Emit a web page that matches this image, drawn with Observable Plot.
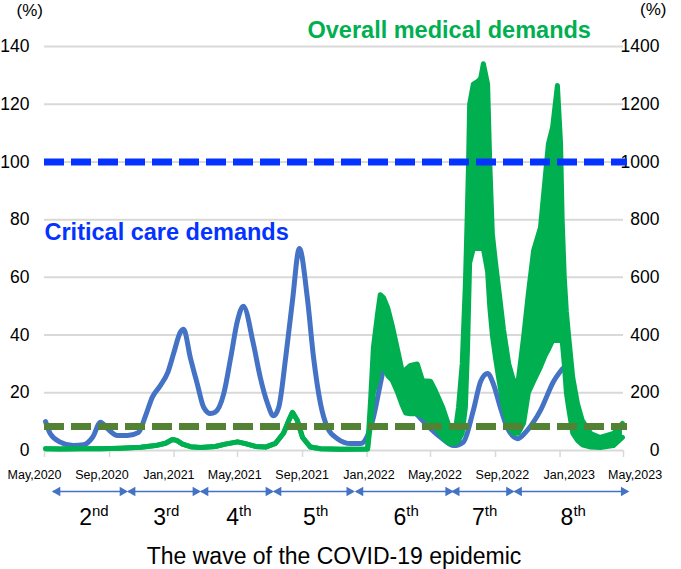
<!DOCTYPE html>
<html><head><meta charset="utf-8">
<script src="https://cdn.jsdelivr.net/npm/d3@7"></script>
<script src="https://cdn.jsdelivr.net/npm/@observablehq/plot@0.6"></script>
<style>body{margin:0;background:#fff}</style>
</head><body><div id="chart"></div>
<script>
// ---- data ----
const tickDates = ["2020-05-01","2020-09-01","2021-01-01","2021-05-01","2021-09-01","2022-01-01","2022-05-01","2022-09-01","2023-01-01","2023-05-01"];
const tickLabels = ["May,2020","Sep,2020","Jan,2021","May,2021","Sep,2021","Jan,2022","May,2022","Sep,2022","Jan,2023","May,2023"];
const leftTicks = [0,20,40,60,80,100,120,140];
const rightTicks = [0,200,400,600,800,1000,1200,1400];

// Critical care demands (%), left axis
const blueDates = ["2020-05-03","2020-05-12","2020-05-31","2020-06-25","2020-07-14","2020-07-31","2020-08-15","2020-08-28","2020-09-16","2020-10-05","2020-10-26","2020-11-08","2020-11-21","2020-12-06","2020-12-20","2020-12-31","2021-01-13","2021-01-19","2021-02-01","2021-02-14","2021-02-26","2021-03-11","2021-03-20","2021-04-05","2021-04-18","2021-05-01","2021-05-12","2021-05-31","2021-06-13","2021-06-27","2021-07-08","2021-07-18","2021-07-31","2021-08-13","2021-08-26","2021-09-10","2021-09-22","2021-10-05","2021-10-18","2021-11-06","2021-12-01","2021-12-20","2022-01-02","2022-01-13","2022-01-26","2022-02-03","2022-02-18","2022-03-05","2022-03-18","2022-04-03","2022-04-25","2022-05-20","2022-06-14","2022-07-02","2022-07-21","2022-08-04","2022-08-17","2022-08-28","2022-09-10","2022-09-23","2022-10-13","2022-10-31","2022-11-25","2022-12-20","2023-01-06"];
const blueValues = [10,5.8,2.9,1.7,2,4.6,9.8,7.6,5.2,5.2,6.3,12,18.5,22.5,27,33.5,41,42,32,23,15,12.8,13.3,19.7,32,45,50,37,25.4,16.2,12,15,32,52,70,53,32,16.2,8,4.1,2.4,2.4,5.2,11.5,23,30,38,25,17,13,8.7,4.6,1.7,2.9,13.9,24,26.7,23,15,8,4.1,7,13.9,24,28.4];

// Overall medical demands (%), right axis: upper and lower edge of the daily band
const greenDates = ["2020-05-03","2020-05-31","2020-07-08","2020-08-15","2020-09-22","2020-10-30","2020-11-27","2020-12-16","2020-12-29","2021-01-06","2021-01-17","2021-02-01","2021-02-20","2021-03-20","2021-04-08","2021-05-01","2021-05-16","2021-06-04","2021-06-23","2021-07-12","2021-07-27","2021-08-05","2021-08-13","2021-08-22","2021-09-01","2021-09-16","2021-10-05","2021-11-12",
  "2022-01-02","2022-01-08","2022-01-13","2022-01-21","2022-01-26","2022-02-01","2022-02-09","2022-02-18","2022-02-28","2022-03-09","2022-03-15","2022-03-24","2022-04-06","2022-04-16","2022-05-01","2022-05-10","2022-05-24","2022-06-04","2022-06-17","2022-06-23","2022-06-30",
  "2022-07-06","2022-07-10","2022-07-12","2022-07-14","2022-07-21","2022-07-30","2022-08-04","2022-08-09","2022-08-17","2022-08-21","2022-08-26","2022-09-01","2022-09-07","2022-09-16","2022-09-26","2022-10-05","2022-10-14",
  "2022-10-24","2022-11-02","2022-11-12","2022-11-25","2022-12-04","2022-12-10","2022-12-18","2022-12-27","2023-01-02","2023-01-05","2023-01-09","2023-01-13","2023-01-17","2023-01-25","2023-02-03","2023-02-12","2023-02-28","2023-03-18","2023-04-12","2023-04-29"];
const greenHigh = [6,5,6,6,8,11,17,25,38,35,22,13,10,14,22,30,24,14,12,25,60,100,132,105,45,12,6,4,
  5,184,357,475,540,530,495,430,346,270,280,295,300,242,240,208,150,90,69,150,301,
  578,850,1000,1200,1270,1280,1290,1340,1270,1000,750,650,560,420,300,242,242,
  391,543,693,773,947,1063,1121,1265,1063,800,600,480,400,253,162,104,59,45,59,94];
const greenLow = [6,5,6,6,8,11,17,25,38,35,22,13,10,14,22,30,24,14,12,25,60,100,132,105,45,12,6,4,
  5,100,200,250,300,290,260,242,200,155,130,127,127,120,100,80,45,25,24,35,60,
  150,350,500,650,700,700,700,700,620,500,400,320,250,150,80,60,60,
  94,200,240,290,330,350,381,381,381,381,300,200,150,60,35,20,12,10,17,45];

const criticalThreshold = 100;   // left axis %
const overallThreshold = 83;     // right axis %

const waveNum = ["2","3","4","5","6","7","8"];
const waveSuffix = ["nd","rd","th","th","th","th","th"];
const waveStart = ["2020-05-18","2020-10-07","2021-02-22","2021-07-10","2021-12-12","2022-06-12","2022-10-08"];
const waveEnd   = ["2020-10-03","2021-02-18","2021-07-06","2021-12-06","2022-06-11","2022-10-04","2023-05-09"];

const criticalLabel = "Critical care demands";
const overallLabel = "Overall medical demands";
const title = "The wave of the COVID-19 epidemic";

// ---- build ----
const parse = d3.utcParse("%Y-%m-%d");
const blue = blueDates.map((d, i) => ({date: parse(d), v: blueValues[i]}));
const green = greenDates.map((d, i) => ({date: parse(d), high: greenHigh[i], low: greenLow[i]}));
const waves = waveNum.map((n, i) => {
  const s = parse(waveStart[i]), e = parse(waveEnd[i]);
  return {num: n, suf: waveSuffix[i], start: s, end: e, mid: new Date((+s + +e) / 2)};
});
const ticks = tickDates.map(parse);
const domain = [ticks[0], ticks[ticks.length - 1]];
const plotW = 681 - 44 - 58;
const msPerPx = (domain[1] - domain[0]) / plotW;

const BLUE = "#4472C4", GREEN = "#00B050", OLIVE = "#548235", DBLUE = "#0433FF", GRID = "#D9D9D9";
const FONT = "'Liberation Sans', Arial, sans-serif";
const NARROW = "'Liberation Sans Narrow', 'Arial Narrow', 'Liberation Sans', sans-serif";

const chart = Plot.plot({
  width: 681, height: 569,
  marginLeft: 44, marginRight: 58, marginTop: 46, marginBottom: 119,
  style: {fontFamily: FONT, background: "#fff", color: "#000", overflow: "visible"},
  x: {domain, type: "utc"},
  y: {domain: [0, 140]},
  marks: [
    Plot.ruleY(leftTicks, {stroke: GRID, strokeWidth: 2}),
    Plot.axisX({ticks, tickSize: 7, tickFormat: () => "", stroke: GRID, strokeWidth: 1.5, label: null}),
    Plot.axisY({anchor: "left", ticks: leftTicks, tickSize: 0, tickPadding: 15, fontSize: 17.5, fill: "#000", label: null}),
    Plot.text(rightTicks, {y: d => d / 10, text: d => String(d), frameAnchor: "right", dx: 36, lineAnchor: "middle", fontSize: 17.5, fill: "#000"}),
    Plot.lineY(blue, {x: "date", y: "v", stroke: BLUE, strokeWidth: 5, curve: "monotone-x"}),
    Plot.areaY(green, {x: "date", y1: d => d.low / 10, y2: d => d.high / 10, fill: GREEN}),
    Plot.lineY(green, {x: "date", y: d => d.high / 10, stroke: GREEN, strokeWidth: 5}),
    Plot.lineY(green, {x: "date", y: d => d.low / 10, stroke: GREEN, strokeWidth: 5}),
    Plot.ruleY([criticalThreshold], {stroke: DBLUE, strokeWidth: 7, strokeDasharray: "20,7", insetRight: -4}),
    Plot.ruleY([overallThreshold / 10], {stroke: OLIVE, strokeWidth: 7, strokeDasharray: "20,7", insetRight: -4}),
    Plot.text([overallLabel], {frameAnchor: "top-left", dx: 263, dy: -16, lineAnchor: "middle", textAnchor: "start", fontWeight: "bold", fontSize: 23.5, fill: GREEN}),
    Plot.text([criticalLabel], {frameAnchor: "top-left", dx: 0, dy: 185.5, lineAnchor: "middle", textAnchor: "start", fontWeight: "bold", fontSize: 23.5, fill: DBLUE}),
    Plot.text(["(%)"], {frameAnchor: "top-left", dx: -28, dy: -36, lineAnchor: "middle", fontSize: 17, fill: "#000"}),
    Plot.text(["(%)"], {frameAnchor: "top-right", dx: 43, dy: -37, lineAnchor: "middle", fontSize: 17, fill: "#000"}),
    Plot.text(tickLabels, {x: (d, i) => new Date(+ticks[i] + (i * 2.4 - 10) * msPerPx), frameAnchor: "bottom", dy: 24, lineAnchor: "middle", fontSize: 12.5, fontFamily: NARROW, fill: "#000"}),
    Plot.ruleY(waves, {x1: "start", x2: "end", y: () => 0, dy: 41, stroke: BLUE, strokeWidth: 1.5}),
    Plot.dot(waves, {x: "end", y: () => 0, dy: 41, dx: -4, symbol: "triangle", rotate: 90, r: 3.6, fill: BLUE, stroke: null}),
    Plot.dot(waves, {x: "start", y: () => 0, dy: 41, dx: 4, symbol: "triangle", rotate: -90, r: 3.6, fill: BLUE, stroke: null}),
    Plot.text(waves, {x: "mid", y: () => 0, dy: 67, dx: 2, text: "num", textAnchor: "end", lineAnchor: "middle", fontSize: 23, fill: "#000"}),
    Plot.text(waves, {x: "mid", y: () => 0, dy: 61, dx: 2, text: "suf", textAnchor: "start", lineAnchor: "middle", fontSize: 15, fill: "#000"}),
    Plot.text([title], {frameAnchor: "bottom", dy: 106, lineAnchor: "middle", fontSize: 23, fill: "#000"})
  ]
});
document.getElementById("chart").appendChild(chart);
</script></body></html>
